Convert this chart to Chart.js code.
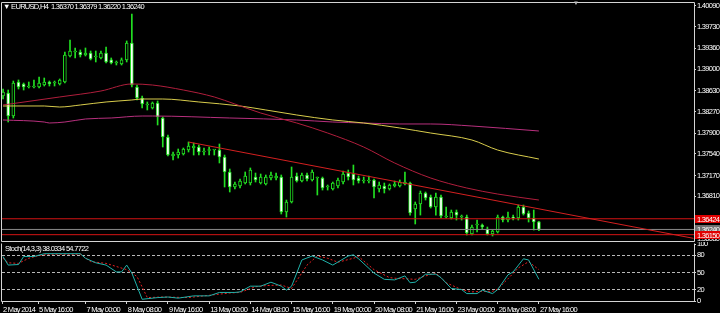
<!DOCTYPE html>
<html>
<head>
<meta charset="utf-8">
<script src="https://cdn.jsdelivr.net/npm/chart.js@4.4.0/dist/chart.umd.min.js"></script>
<style>
  html, body { margin: 0; padding: 0; background: #000; }
  body { width: 720px; height: 313px; position: relative; overflow: hidden;
         font-family: 'Liberation Sans', sans-serif; }
  canvas { position: absolute; left: 0; }
  #main { top: 0; }
  #stoch { top: 242px; }
  .lbl { position: absolute; color: #fff; font-size: 7.5px; line-height: 8px; white-space: pre; letter-spacing: -0.7px; }
</style>
</head>
<body>
<canvas id="main" width="720" height="243"></canvas>
<canvas id="stoch" width="720" height="71"></canvas>
<div class="lbl" id="head" style="left:3px;top:3px"></div>
<div class="lbl" id="stochHead" style="left:5px;top:245px"></div>
<div class="lbl" style="left:573px;top:-1px;color:#bbb;font-size:6px">▼</div>
<script>
// candles, H4 EURUSD (oldest first)
const opens = [1.38539, 1.38591, 1.38194, 1.38780, 1.38746, 1.38694, 1.38694, 1.38694, 1.38728, 1.38780,
  1.38763, 1.38746, 1.38780, 1.39228, 1.39297, 1.39297, 1.39245, 1.39280, 1.39211, 1.39194,
  1.39280, 1.39160, 1.39108, 1.39091, 1.39160, 1.39452, 1.38694, 1.38505, 1.38384, 1.38332,
  1.38418, 1.38160, 1.37833, 1.37505, 1.37522, 1.37539, 1.37608, 1.37643, 1.37660, 1.37574,
  1.37600, 1.37608, 1.37608, 1.37488, 1.37230, 1.36971, 1.36988, 1.37040, 1.37040, 1.37143,
  1.37040, 1.37023, 1.37126, 1.37126, 1.37143, 1.36540, 1.36713, 1.37161, 1.37074, 1.37178,
  1.37092, 1.37126, 1.37126, 1.36971, 1.36937, 1.36988, 1.37057, 1.37212, 1.37195, 1.37126,
  1.37074, 1.37074, 1.37092, 1.36937, 1.36988, 1.36937, 1.36988, 1.36988, 1.37023, 1.37040,
  1.36592, 1.36678, 1.36868, 1.36799, 1.36627, 1.36799, 1.36454, 1.36437, 1.36540, 1.36454,
  1.36454, 1.36161, 1.36316, 1.36316, 1.36247, 1.36161, 1.36196, 1.36454, 1.36402, 1.36454,
  1.36437, 1.36627, 1.36523, 1.36437, 1.36370];
const highs = [1.38659, 1.38642, 1.38797, 1.38815, 1.38763, 1.38780, 1.38815, 1.38866, 1.38849, 1.38797,
  1.38797, 1.38832, 1.39297, 1.39504, 1.39366, 1.39332, 1.39366, 1.39314, 1.39314, 1.39314,
  1.39383, 1.39194, 1.39142, 1.39194, 1.39487, 1.39952, 1.38728, 1.38539, 1.38436, 1.38436,
  1.38453, 1.38177, 1.37867, 1.37574, 1.37626, 1.37643, 1.37746, 1.37729, 1.37695, 1.37643,
  1.37660, 1.37612, 1.37712, 1.37522, 1.37281, 1.37057, 1.37109, 1.37230, 1.37299, 1.37212,
  1.37195, 1.37178, 1.37230, 1.37212, 1.37178, 1.36747, 1.37316, 1.37212, 1.37212, 1.37212,
  1.37264, 1.37143, 1.37143, 1.37006, 1.37057, 1.37126, 1.37247, 1.37264, 1.37350, 1.37161,
  1.37143, 1.37161, 1.37109, 1.37057, 1.37040, 1.37023, 1.37074, 1.37092, 1.37230, 1.37057,
  1.36713, 1.36902, 1.36885, 1.36833, 1.36868, 1.36833, 1.36627, 1.36575, 1.36575, 1.36488,
  1.36488, 1.36316, 1.36402, 1.36334, 1.36282, 1.36230, 1.36488, 1.36471, 1.36540, 1.36488,
  1.36661, 1.36661, 1.36558, 1.36575, 1.36379];
const lows = [1.38487, 1.38091, 1.38160, 1.38659, 1.38642, 1.38677, 1.38677, 1.38677, 1.38711, 1.38711,
  1.38711, 1.38728, 1.38763, 1.39211, 1.39194, 1.39211, 1.39228, 1.39160, 1.39125, 1.39177,
  1.39108, 1.39091, 1.39073, 1.39073, 1.39125, 1.38694, 1.38470, 1.38332, 1.38298, 1.38315,
  1.38039, 1.37660, 1.37505, 1.37436, 1.37470, 1.37522, 1.37574, 1.37522, 1.37522, 1.37522,
  1.37522, 1.37522, 1.37385, 1.36971, 1.36885, 1.36937, 1.36954, 1.37023, 1.37006, 1.37057,
  1.37023, 1.37006, 1.37092, 1.37092, 1.36506, 1.36454, 1.36696, 1.37057, 1.37057, 1.37074,
  1.37074, 1.36833, 1.36919, 1.36919, 1.36919, 1.36954, 1.37023, 1.37092, 1.37006, 1.37040,
  1.37040, 1.37040, 1.36782, 1.36885, 1.36868, 1.36919, 1.36971, 1.36971, 1.37006, 1.36488,
  1.36334, 1.36488, 1.36747, 1.36609, 1.36488, 1.36437, 1.36437, 1.36420, 1.36402, 1.36402,
  1.36144, 1.36144, 1.36196, 1.36247, 1.36144, 1.36127, 1.36179, 1.36368, 1.36368, 1.36402,
  1.36402, 1.36488, 1.36368, 1.36230, 1.36220];
const closes = [1.38608, 1.38194, 1.38763, 1.38694, 1.38694, 1.38700, 1.38700, 1.38763, 1.38780, 1.38746,
  1.38770, 1.38815, 1.39245, 1.39314, 1.39314, 1.39245, 1.39280, 1.39177, 1.39228, 1.39280,
  1.39125, 1.39108, 1.39116, 1.39160, 1.39452, 1.38728, 1.38505, 1.38401, 1.38401, 1.38418,
  1.38177, 1.37833, 1.37522, 1.37539, 1.37574, 1.37626, 1.37677, 1.37677, 1.37574, 1.37591,
  1.37608, 1.37610, 1.37488, 1.37230, 1.36971, 1.37023, 1.37074, 1.37161, 1.37264, 1.37092,
  1.37143, 1.37143, 1.37178, 1.37161, 1.36540, 1.36713, 1.37143, 1.37074, 1.37178, 1.37109,
  1.37230, 1.37130, 1.36954, 1.36988, 1.37040, 1.37092, 1.37195, 1.37143, 1.37092, 1.37074,
  1.37083, 1.37092, 1.36971, 1.37006, 1.36937, 1.37006, 1.37023, 1.37057, 1.37057, 1.36523,
  1.36678, 1.36868, 1.36782, 1.36627, 1.36799, 1.36471, 1.36463, 1.36540, 1.36488, 1.36463,
  1.36179, 1.36282, 1.36334, 1.36282, 1.36161, 1.36213, 1.36454, 1.36402, 1.36454, 1.36437,
  1.36627, 1.36506, 1.36437, 1.36368, 1.36240];

// moving averages, read at a few bars
const redMaIdx = [0, 11, 19, 25, 29, 35, 41, 45, 50, 57, 63, 70, 76, 83, 90, 96, 104];
const redMaVal = [1.38384, 1.38522, 1.38625, 1.38746, 1.38728, 1.38642, 1.38522, 1.38401, 1.38246,
  1.38074, 1.37901, 1.37660, 1.37385, 1.37126, 1.36954, 1.36850, 1.36747];
const yellowMaIdx = [0, 8, 11, 15, 20, 25, 27, 31, 38, 46, 51, 57, 64, 70, 77, 83, 91, 96, 104];
const yellowMaVal = [1.38367, 1.38367, 1.38349, 1.38384, 1.38436, 1.38470, 1.38487, 1.38487, 1.38436,
  1.38367, 1.38298, 1.38212, 1.38126, 1.38074, 1.37988, 1.37901, 1.37781, 1.37608, 1.37453];
const magentaMaIdx = [0, 8, 9, 12, 16, 21, 27, 29, 44, 57, 64, 70, 77, 83, 91, 104];
const magentaMaVal = [1.38126, 1.38091, 1.38074, 1.38091, 1.38143, 1.38160, 1.38194, 1.38194, 1.38160,
  1.38126, 1.38091, 1.38074, 1.38057, 1.38057, 1.38022, 1.37936];

// objects on the chart
const trendIdx = [36, 134];
const trendVal = [1.37746, 1.36087];
const levelVals = [1.36424, 1.36240, 1.36150];
const priceTicks = [1.40090, 1.39730, 1.39360, 1.39000, 1.38630, 1.38270, 1.37900, 1.37540,
  1.37170, 1.36810, 1.36440, 1.36080];

// stochastic (14,3,3)
const stochKIdx = [0, 1, 3, 4, 6, 8, 15, 16, 18, 20, 22, 23, 24, 25, 27, 30, 32, 34, 37, 40,
  42, 45, 46, 48, 50, 52, 54, 55, 56, 58, 60, 62, 64, 67, 68, 69, 72, 74, 76, 78,
  79, 80, 82, 84, 85, 87, 89, 90, 92, 93, 95, 96, 98, 99, 101, 102, 104];
const stochKVal = [78, 63, 64, 78, 78, 83, 83, 75, 67, 63, 51, 51, 63, 49, 3, 6, 7, 5, 9, 9,
  15, 15, 16, 26, 26, 33, 26, 19, 26, 72, 79, 72, 63, 79, 81, 74, 49, 38, 37, 44,
  32, 33, 47, 47, 41, 22, 20, 13, 13, 19, 13, 20, 46, 51, 74, 72, 38];
const stochDIdx = [0, 1, 3, 5, 7, 9, 15, 17, 20, 24, 26, 28, 31, 36, 40, 44, 46, 49, 51, 54,
  56, 59, 61, 63, 65, 68, 69, 72, 75, 76, 78, 80, 82, 84, 86, 89, 91, 93, 95, 96,
  98, 100, 102, 104];
const stochDVal = [75, 67, 66, 75, 80, 82, 82, 69, 66, 55, 43, 6, 7, 6, 10, 14, 15, 25, 27, 28,
  22, 63, 79, 75, 68, 75, 78, 55, 41, 40, 39, 38, 44, 49, 32, 20, 16, 17, 17, 21,
  39, 58, 69, 55];
const stochLevels = [80, 50, 20];
const stochTicks = [100, 80, 50, 20, 0];

const timeLabels = ['2 May 2014', '5 May 16:00', '7 May 00:00', '8 May 08:00', '9 May 16:00',
  '13 May 00:00', '14 May 08:00', '15 May 16:00', '19 May 00:00', '20 May 08:00',
  '21 May 16:00', '23 May 00:00', '26 May 08:00', '27 May 16:00'];
const timeLabelIdx = [-0.2, 6.8, 16, 24, 32, 40, 48, 56, 64, 72, 80, 88, 96, 104];

const X_MIN = -0.2, X_MAX = 134.1;
const FONT = "'Liberation Sans', sans-serif";
const FONT_SIZE = 7.5;
const GREEN = '#22e022';
const FRAME = '#d4d4d4';

const last = opens.length - 1;
document.getElementById('head').textContent = '▼ EURUSD,H4  ' +
  [opens[last], highs[last], lows[last], closes[last]].map(v => v.toFixed(5)).join(' ');
document.getElementById('stochHead').textContent = 'Stoch(14,3,3) 38.0334 54.7722';

const pts = (xs, ys) => xs.map((x, k) => ({ x: x, y: ys[k] }));
const line = (data, color, extra) => Object.assign({
  type: 'line', data: data, borderColor: color, borderWidth: 1,
  pointRadius: 0, fill: false, order: 0
}, extra || {});

// the terminal font is narrow: squeeze canvas text a bit
const narrow = {
  id: 'narrow',
  beforeUpdate(chart) { chart.ctx.letterSpacing = '-0.7px'; },
  beforeDraw(chart) { chart.ctx.letterSpacing = '-0.7px'; }
};

// frame round the plot area
const frame = {
  id: 'frame',
  afterDraw(chart, args, opts) {
    const { ctx, chartArea: a } = chart;
    const l = Math.round(a.left) - 0.5, r = Math.round(a.right) + 0.5;
    const t = Math.round(a.top) - 0.5, b = Math.round(a.bottom) + 0.5;
    ctx.save();
    ctx.strokeStyle = FRAME;
    ctx.lineWidth = 1;
    ctx.beginPath();
    if (opts.top) { ctx.moveTo(l, t); ctx.lineTo(r, t); }
    ctx.moveTo(l, t); ctx.lineTo(l, b);
    ctx.moveTo(l, b); ctx.lineTo(r, b);
    ctx.moveTo(r, t); ctx.lineTo(r, b);
    ctx.stroke();
    ctx.restore();
  }
};

// price tags on the right scale for the horizontal lines
const levelColors = ['#d41414', '#8a8a8a', '#d41414'];
const tagColors = ['#e00000', '#707070', '#e00000'];
const priceTags = {
  id: 'priceTags',
  afterDraw(chart) {
    const { ctx, chartArea: a, scales } = chart;
    ctx.save();
    ctx.font = FONT_SIZE + 'px ' + FONT;
    ctx.textBaseline = 'middle';
    levelVals.forEach((v, k) => {
      const py = Math.round(scales.y.getPixelForValue(v));
      ctx.fillStyle = tagColors[k];
      ctx.fillRect(a.right + 1, py - 4, 26, 8);
      ctx.fillStyle = '#fff';
      ctx.fillText(v.toFixed(5), a.right + 3, py + 0.5);
    });
    ctx.restore();
  }
};

new Chart(document.getElementById('main'), {
  type: 'bar',
  data: {
    datasets: [
      line(pts(trendIdx, trendVal), '#d42020'),
      line(pts(redMaIdx, redMaVal), '#b01e3c', { cubicInterpolationMode: 'monotone' }),
      line(pts(yellowMaIdx, yellowMaVal), '#d8cc4c', { cubicInterpolationMode: 'monotone' }),
      line(pts(magentaMaIdx, magentaMaVal), '#b8307e', { cubicInterpolationMode: 'monotone' }),
      ...levelVals.map((v, k) => line([{ x: X_MIN, y: v }, { x: X_MAX, y: v }], levelColors[k])),
      {
        data: opens.map((o, i) => ({ x: i, y: [o, closes[i]] })),
        backgroundColor: opens.map((o, i) => closes[i] < o ? '#ffffff' : '#000000'),
        borderColor: GREEN, borderWidth: 1, borderSkipped: false,
        barThickness: 3, minBarLength: 1, grouped: false, order: 1
      },
      {
        data: highs.map((h, i) => ({ x: i, y: [lows[i], h] })),
        backgroundColor: GREEN, borderWidth: 0,
        barThickness: 1, grouped: false, order: 2
      }
    ]
  },
  options: {
    responsive: false,
    animation: false,
    events: [],
    layout: { padding: { left: 2, top: 3, right: 0, bottom: 2 } },
    plugins: { legend: { display: false }, tooltip: { enabled: false }, frame: { top: true } },
    scales: {
      x: { type: 'linear', min: X_MIN, max: X_MAX, offset: false, display: false, grid: { offset: false } },
      y: {
        position: 'right',
        min: 1.36041,
        max: 1.40141,
        afterBuildTicks: s => { s.ticks = priceTicks.map(v => ({ value: v })); },
        afterFit: s => { s.width = 26; s.paddingTop = 0; s.paddingBottom = 0; },
        ticks: { color: '#fff', font: { family: FONT, size: FONT_SIZE }, padding: 1, callback: v => v.toFixed(5) },
        grid: { drawOnChartArea: false, color: FRAME, tickLength: 2 },
        border: { display: false }
      }
    }
  },
  plugins: [narrow, frame, priceTags]
});

new Chart(document.getElementById('stoch'), {
  type: 'line',
  data: {
    datasets: [
      line(pts(stochKIdx, stochKVal), '#20b2aa'),
      line(pts(stochDIdx, stochDVal), '#e82020', { borderDash: [2, 2] })
    ]
  },
  options: {
    responsive: false,
    animation: false,
    events: [],
    layout: { padding: { left: 2, top: 2, right: 0, bottom: 0 } },
    plugins: { legend: { display: false }, tooltip: { enabled: false }, frame: { top: false } },
    scales: {
      x: {
        type: 'linear', min: X_MIN, max: X_MAX, offset: false,
        afterBuildTicks: s => { s.ticks = timeLabelIdx.map(v => ({ value: v })); },
        afterFit: s => { s.height = 12; s.paddingLeft = 0; s.paddingRight = 0; },
        ticks: {
          color: '#fff', font: { family: FONT, size: FONT_SIZE }, align: 'start', maxRotation: 0,
          autoSkip: false, padding: 1, labelOffset: 1, callback: (v, k) => timeLabels[k]
        },
        grid: { drawOnChartArea: false, color: FRAME, tickLength: 3 },
        border: { display: false }
      },
      y: {
        position: 'right', min: 0, max: 100,
        afterBuildTicks: s => { s.ticks = stochTicks.map(v => ({ value: v })); },
        afterFit: s => { s.width = 26; s.paddingTop = 0; s.paddingBottom = 0; },
        ticks: { color: '#fff', font: { family: FONT, size: FONT_SIZE }, padding: 1, callback: v => String(v) },
        grid: {
          color: c => (c.tick && stochLevels.includes(c.tick.value)) ? '#b8b8b8' : 'rgba(0,0,0,0)',
          tickColor: FRAME, tickLength: 2
        },
        border: { display: false, dash: [3, 2] }
      }
    }
  },
  plugins: [narrow, frame]
});
</script>
</body>
</html>
